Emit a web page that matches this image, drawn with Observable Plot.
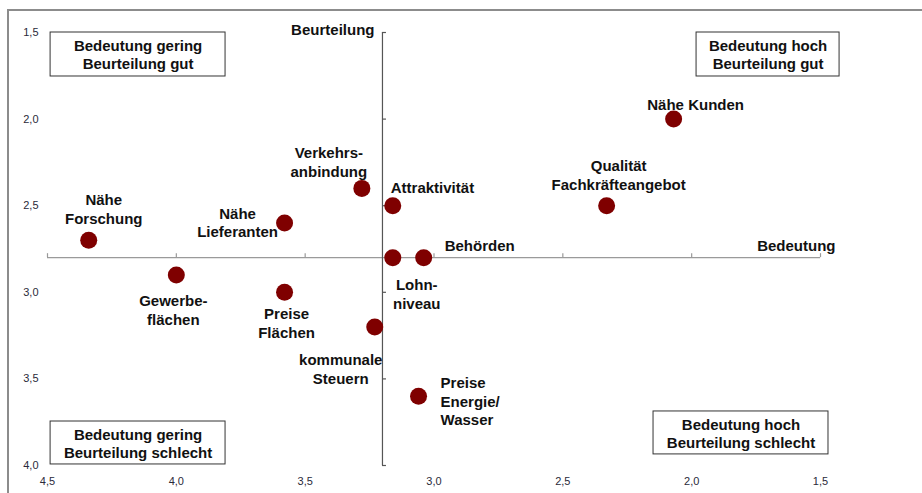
<!DOCTYPE html>
<html>
<head>
<meta charset="utf-8">
<script src="https://cdn.jsdelivr.net/npm/d3@7"></script>
<script src="https://cdn.jsdelivr.net/npm/@observablehq/plot@0.6"></script>
<style>
  html, body { margin: 0; padding: 0; background: #fff; }
  #wrap { position: relative; width: 922px; height: 493px; overflow: hidden; }
  #frame { position: absolute; left: 7px; top: 9px; right: -10px; bottom: -10px;
           border-top: 2px solid #8c8c8c; border-left: 2px solid #8c8c8c; pointer-events: none; }
</style>
</head>
<body>
<div id="wrap"><div id="frame"></div></div>
<script>
// ---- data ----
const categories = [
  "Nähe Kunden",
  "Qualität\nFachkräfteangebot",
  "Attraktivität",
  "Verkehrs-\nanbindung",
  "Nähe\nLieferanten",
  "Nähe\nForschung",
  "Gewerbe-\nflächen",
  "Preise\nFlächen",
  "Lohn-\nniveau",
  "Behörden",
  "kommunale\nSteuern",
  "Preise\nEnergie/\nWasser"
];
const importance = [2.07, 2.33, 3.16, 3.28, 3.58, 4.34, 4.00, 3.58, 3.16, 3.04, 3.23, 3.06]; // Bedeutung (x)
const rating     = [2.00, 2.50, 2.50, 2.40, 2.60, 2.70, 2.90, 3.00, 2.80, 2.80, 3.20, 3.60]; // Beurteilung (y)

const xTicks = [4.5, 4.0, 3.5, 3.0, 2.5, 2.0, 1.5];
const yTicks = [1.5, 2.0, 2.5, 3.0, 3.5, 4.0];
const xCross = 3.2;   // Bedeutung axis crosses here
const yCross = 2.8;   // Beurteilung axis crosses here

const quadrantTexts = [
  "Bedeutung gering\nBeurteilung gut",
  "Bedeutung hoch\nBeurteilung gut",
  "Bedeutung gering\nBeurteilung schlecht",
  "Bedeutung hoch\nBeurteilung schlecht"
];
// quadrant box extents in data units
const quadX1 = [4.488, 1.981, 4.488, 2.148];
const quadX2 = [3.809, 1.426, 3.809, 1.469];
const quadY1 = [1.500, 1.500, 3.746, 3.688];
const quadY2 = [1.754, 1.754, 3.994, 3.936];

// ---- label placement (pixels, style) ----
const labelDx     = [22, 12, -2, -33, -47, 15, -3, 2, 24, 21, -34, 22];
const labelDy     = [-15, -31.5, -19, -27, -1, -31.5, 34.5, 30.5, 35.5, -13, 41.5, 4.5];
const labelAnchor = ["middle", "middle", "start", "middle", "middle", "middle", "middle", "middle", "middle", "start", "middle", "start"];

const points = categories.map((name, i) => ({name, x: importance[i], y: rating[i]}));
const quads = quadrantTexts.map((t, i) => ({
  t, x1: quadX1[i], x2: quadX2[i], y1: quadY1[i], y2: quadY2[i],
  cx: (quadX1[i] + quadX2[i]) / 2, cy: (quadY1[i] + quadY2[i]) / 2
}));
const fmt = d => d.toFixed(1).replace(".", ",");
const font = "'Liberation Sans', Arial, sans-serif";

const labelMarks = points.map((p, i) => Plot.text([p], {
  x: "x", y: "y", text: "name",
  dx: labelDx[i], dy: labelDy[i], textAnchor: labelAnchor[i],
  fontSize: 15, fontWeight: "bold", fill: "#111", lineHeight: 1.25
}));

const chart = Plot.plot({
  width: 922, height: 493,
  marginLeft: 47, marginRight: 102, marginTop: 32, marginBottom: 28,
  style: {fontFamily: font, background: "transparent", color: "#222", overflow: "visible"},
  x: {domain: [1.5, 4.5], reverse: true, label: null, axis: null},
  y: {domain: [1.5, 4.0], reverse: true, label: null, axis: null},
  marks: [
    Plot.axisX(xTicks, {anchor: "bottom", tickSize: 0, tickPadding: 12, tickFormat: fmt, fontSize: 11, label: null, fill: "#2a2a3a"}),
    Plot.axisY(yTicks, {anchor: "left", tickSize: 0, tickPadding: 9, tickFormat: fmt, fontSize: 11, label: null, fill: "#2a2a3a"}),
    // crossing axes
    Plot.ruleY([yCross], {x1: 4.5, x2: 1.5, stroke: "#9a9a9a", strokeWidth: 1.2}),
    Plot.ruleX([xCross], {y1: 1.5, y2: 4.0, stroke: "#555", strokeWidth: 1.2}),
    Plot.ruleX(xTicks, {x: d => d, y1: yCross, y2: yCross, insetTop: -4, stroke: "#9a9a9a", strokeWidth: 1.2}),
    Plot.ruleY(yTicks, {y: d => d, x1: xCross, x2: xCross, insetRight: -4, stroke: "#555", strokeWidth: 1.2}),
    // axis titles
    Plot.text(["Beurteilung"], {x: xCross, y: 1.5, text: d => d, textAnchor: "end", dx: -8, dy: -2, fontSize: 15, fontWeight: "bold", fill: "#111"}),
    Plot.text(["Bedeutung"], {x: 1.5, y: yCross, text: d => d, textAnchor: "end", dx: 15, dy: -11, fontSize: 15, fontWeight: "bold", fill: "#111"}),
    // quadrant boxes
    Plot.rect(quads, {x1: "x1", x2: "x2", y1: "y1", y2: "y2", fill: "white", stroke: "#333", strokeWidth: 1}),
    Plot.text(quads, {x: "cx", y: "cy", text: "t", fontSize: 15, fontWeight: "bold", fill: "#111", lineHeight: 1.2}),
    // points
    Plot.dot(points, {x: "x", y: "y", r: 8.5, fill: "#7f0000", stroke: "none"}),
    ...labelMarks
  ]
});
document.getElementById("wrap").appendChild(chart);
</script>
</body>
</html>
